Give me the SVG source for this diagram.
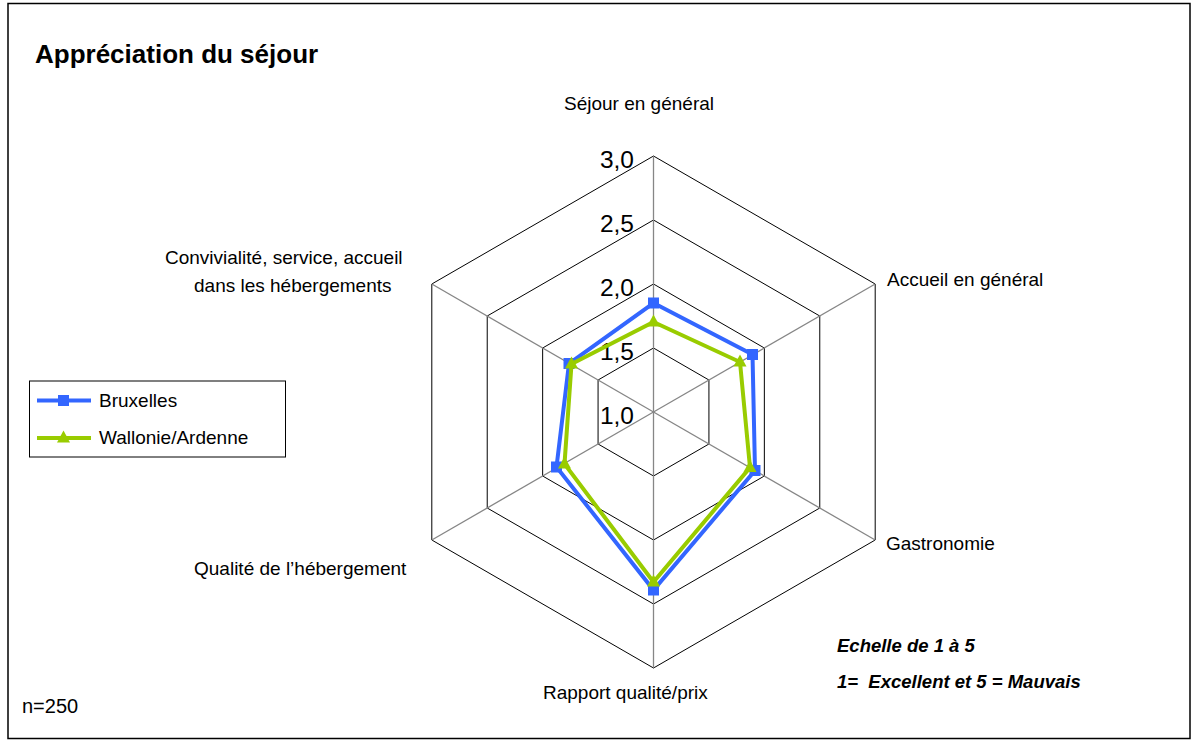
<svg xmlns="http://www.w3.org/2000/svg" width="1195" height="745" viewBox="0 0 1195 745">
<style>
text{font-family:"Liberation Sans",Arial,sans-serif;fill:#000;}
.lbl{font-size:19px;}
.ax{font-size:24.5px;text-anchor:end;}
.grid{fill:none;stroke:#000;stroke-width:1;}
.spoke{stroke:#868686;stroke-width:1.3;}
.blue{fill:none;stroke:#3366FF;stroke-width:4;stroke-linejoin:miter;}
.green{fill:none;stroke:#99CC00;stroke-width:4;stroke-linejoin:miter;}
.note{font-size:18.5px;font-weight:bold;font-style:italic;}
</style>
<defs>
<rect id="sq" x="-5.5" y="-5.5" width="11" height="11" fill="#3366FF"/>
<polygon id="tri" points="0,-7.5 6.5,4.5 -6.5,4.5" fill="#99CC00"/>
</defs>
<rect x="0" y="0" width="1195" height="745" fill="#fff"/>
<rect x="8" y="3.5" width="1182" height="735" fill="none" stroke="#000" stroke-width="1.5"/>
<text x="35" y="62.5" style="font-size:26px;font-weight:bold">Appréciation du séjour</text>

<g id="grid">
<polygon class="grid" points="653.5,348 708.93,380 708.93,444 653.5,476 598.07,444 598.07,380"/>
<polygon class="grid" points="653.5,284 764.35,348 764.35,476 653.5,540 542.65,476 542.65,348"/>
<polygon class="grid" points="653.5,220 819.78,316 819.78,508 653.5,604 487.22,508 487.22,316"/>
<polygon class="grid" points="653.5,156 875.2,284 875.2,540 653.5,668 431.8,540 431.8,284"/>
<line class="spoke" x1="653.5" y1="412" x2="653.5" y2="156"/>
<line class="spoke" x1="653.5" y1="412" x2="875.2" y2="284"/>
<line class="spoke" x1="653.5" y1="412" x2="875.2" y2="540"/>
<line class="spoke" x1="653.5" y1="412" x2="653.5" y2="668"/>
<line class="spoke" x1="653.5" y1="412" x2="431.8" y2="540"/>
<line class="spoke" x1="653.5" y1="412" x2="431.8" y2="284"/>
</g>

<g id="axis-labels">
<text class="ax" x="634" y="168">3,0</text>
<text class="ax" x="634" y="232">2,5</text>
<text class="ax" x="634" y="296">2,0</text>
<text class="ax" x="634" y="360">1,5</text>
<text class="ax" x="634" y="424">1,0</text>
</g>

<g id="category-labels">
<text class="lbl" x="564" y="110">Séjour en général</text>
<text class="lbl" x="887" y="286">Accueil en général</text>
<text class="lbl" x="886" y="550">Gastronomie</text>
<text class="lbl" x="543" y="699">Rapport qualité/prix</text>
<text class="lbl" x="194" y="575">Qualité de l’hébergement</text>
<text class="lbl" x="165" y="264">Convivialité, service, accueil</text>
<text class="lbl" x="194" y="292">dans les hébergements</text>
</g>

<g id="series-bruxelles">
<polygon class="blue" points="653.5,303 752.5,354.5 755,470.5 653.5,590 556.5,467 569,363.5"/>
<use href="#sq" x="653.5" y="303"/>
<use href="#sq" x="752.5" y="354.5"/>
<use href="#sq" x="755" y="470.5"/>
<use href="#sq" x="653.5" y="590"/>
<use href="#sq" x="556.5" y="467"/>
<use href="#sq" x="569" y="363.5"/>
</g>

<g id="series-wallonie">
<polygon class="green" points="653.5,322 740,362 750,467.5 653.5,582 564.5,464 571.5,364"/>
<use href="#tri" x="653.5" y="322"/>
<use href="#tri" x="740" y="362"/>
<use href="#tri" x="750" y="467.5"/>
<use href="#tri" x="653.5" y="582"/>
<use href="#tri" x="564.5" y="464"/>
<use href="#tri" x="571.5" y="364"/>
</g>

<g id="legend">
<rect x="29.5" y="381" width="256" height="76" fill="#fff" stroke="#000" stroke-width="1"/>
<line x1="37" y1="400.5" x2="91" y2="400.5" stroke="#3366FF" stroke-width="4"/>
<use href="#sq" x="63.5" y="400.5"/>
<text class="lbl" x="99" y="407">Bruxelles</text>
<line x1="37" y1="438" x2="91" y2="438" stroke="#99CC00" stroke-width="4"/>
<use href="#tri" x="63.5" y="438"/>
<text class="lbl" x="99" y="444">Wallonie/Ardenne</text>
</g>

<g id="notes">
<text class="note" x="837" y="652">Echelle de 1 à 5</text>
<text class="note" x="837" y="688" xml:space="preserve">1=  Excellent et 5 = Mauvais</text>
<text class="lbl" x="22" y="713" style="font-size:20px">n=250</text>
</g>
</svg>
